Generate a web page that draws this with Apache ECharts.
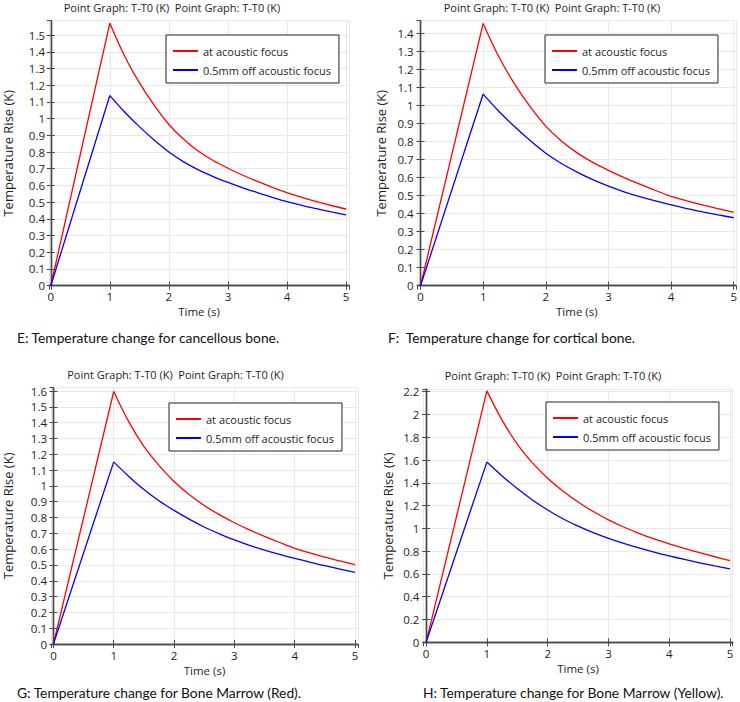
<!DOCTYPE html>
<html><head><meta charset="utf-8">
<script src="https://cdn.jsdelivr.net/npm/echarts@6/dist/echarts.min.js"></script>
<style>html,body{margin:0;padding:0;background:#fff}#chart{width:740px;height:702px}</style>
</head><body><div id="chart"></div>
<script>
// ---- data ----
const timeS = [0, 1, 1.25, 1.5, 1.75, 2, 2.25, 2.5, 2.75, 3, 3.25, 3.5, 3.75, 4, 4.25, 4.5, 4.75, 5];
const seriesNames = ['at acoustic focus', '0.5mm off acoustic focus'];
const panelTitle = 'Point Graph: T-T0 (K)  Point Graph: T-T0 (K)';
const xAxisName = 'Time (s)';
const yAxisName = 'Temperature Rise (K)';
const captions = [
  'E: Temperature change for cancellous bone.',
  'F:  Temperature change for cortical bone.',
  'G: Temperature change for Bone Marrow (Red).',
  'H: Temperature change for Bone Marrow (Yellow).'
];
const cancellousFocus   = [0, 1.571, 1.375, 1.215, 1.08, 0.965, 0.876, 0.805, 0.749, 0.703, 0.661, 0.624, 0.589, 0.557, 0.529, 0.503, 0.48, 0.459];
const cancellousOff     = [0, 1.138, 1.04, 0.952, 0.872, 0.80, 0.741, 0.693, 0.653, 0.618, 0.586, 0.557, 0.529, 0.503, 0.481, 0.461, 0.442, 0.424];
const corticalFocus     = [0, 1.455, 1.27, 1.12, 0.993, 0.885, 0.803, 0.737, 0.684, 0.640, 0.600, 0.563, 0.528, 0.496, 0.471, 0.448, 0.427, 0.407];
const corticalOff       = [0, 1.063, 0.968, 0.883, 0.805, 0.735, 0.678, 0.630, 0.588, 0.552, 0.521, 0.494, 0.47, 0.448, 0.428, 0.41, 0.393, 0.377];
const redMarrowFocus    = [0, 1.597, 1.405, 1.25, 1.13, 1.028, 0.945, 0.876, 0.818, 0.767, 0.722, 0.681, 0.642, 0.605, 0.576, 0.549, 0.525, 0.502];
const redMarrowOff      = [0, 1.152, 1.06, 0.977, 0.906, 0.845, 0.79, 0.74, 0.697, 0.658, 0.624, 0.594, 0.567, 0.542, 0.518, 0.495, 0.474, 0.453];
const yellowMarrowFocus = [0, 2.207, 1.95, 1.74, 1.575, 1.44, 1.328, 1.231, 1.148, 1.075, 1.012, 0.957, 0.908, 0.865, 0.825, 0.787, 0.751, 0.717];
const yellowMarrowOff   = [0, 1.582, 1.46, 1.35, 1.25, 1.162, 1.085, 1.02, 0.963, 0.913, 0.869, 0.829, 0.792, 0.758, 0.727, 0.698, 0.67, 0.644];
const yTickStep = [0.1, 0.1, 0.1, 0.2];

// ---- layout ----
const panelData = [
  [cancellousFocus, cancellousOff],
  [corticalFocus, corticalOff],
  [redMarrowFocus, redMarrowOff],
  [yellowMarrowFocus, yellowMarrowOff]
];
const layout = [
  {left: 45, top: 20.7, width: 304, height: 265, xMin: -0.03, xMax: 5.05, yMax: 1.586, yGap: 35, title: [172, 7], cap: [17, 337], legend: [166, 35]},
  {left: 417.7, top: 20.7, width: 321.3, height: 265, xMin: -0.045, xMax: 5.035, yMax: 1.47, yGap: 30.5, title: [552, 7], cap: [388, 337], legend: [545, 35]},
  {left: 45.5, top: 387.7, width: 312.5, height: 256.3, xMin: -0.04, xMax: 5.05, yMax: 1.621, yGap: 37, title: [175.5, 374.3], cap: [17, 692], legend: [169, 403]},
  {left: 423.3, top: 389.3, width: 309.4, height: 253, xMin: -0.046, xMax: 5.044, yMax: 2.221, yGap: 29, title: [553, 375], cap: [423, 692], legend: [546, 402]}
];
const FONT = 'Open Sans';
const TXT = '#1e1e1e';
const FRAME = '#4a4a4a';
const colors = ['#ff0000', '#0000ff'];

const grid = [], xAxis = [], yAxis = [], series = [], legend = [], graphic = [];
layout.forEach((p, i) => {
  grid.push({left: p.left, top: p.top, width: p.width, height: p.height, containLabel: false});
  const line = {show: true, lineStyle: {color: FRAME, width: 1.4}};
  const tick = {show: true, inside: true, length: 4, lineStyle: {color: FRAME, width: 1}};
  xAxis.push({
    type: 'value', gridIndex: i, position: 'bottom', min: p.xMin, max: p.xMax, splitNumber: 5,
    name: xAxisName, nameLocation: 'middle', nameGap: 20,
    nameTextStyle: {fontFamily: FONT, fontSize: 11.5, color: TXT},
    axisLine: line, axisTick: tick,
    axisLabel: {fontFamily: FONT, fontSize: 11.5, color: TXT, margin: 5, showMinLabel: false, showMaxLabel: false},
    splitLine: {show: true, lineStyle: {color: '#e9e9e9', width: 1}}
  });
  xAxis.push({
    type: 'value', gridIndex: i, position: 'top', min: p.xMin, max: p.xMax, splitNumber: 5,
    axisLine: line, axisTick: tick, axisLabel: {show: false}, splitLine: {show: false}
  });
  yAxis.push({
    type: 'value', gridIndex: i, position: 'left', min: 0, max: p.yMax, interval: yTickStep[i],
    name: yAxisName, nameLocation: 'middle', nameGap: p.yGap,
    nameTextStyle: {fontFamily: FONT, fontSize: 13, color: TXT},
    axisLine: line, axisTick: tick,
    axisLabel: {fontFamily: FONT, fontSize: 11.5, color: TXT, margin: 4, showMaxLabel: false},
    splitLine: {show: true, lineStyle: {color: '#e9e9e9', width: 1}}
  });
  yAxis.push({
    type: 'value', gridIndex: i, position: 'right', min: 0, max: p.yMax, interval: yTickStep[i],
    axisLine: line, axisTick: tick, axisLabel: {show: false}, splitLine: {show: false}
  });
  panelData[i].forEach((vals, k) => {
    const pts = timeS.map((t, j) => [t, vals[j]]);
    const base = {
      type: 'line', name: seriesNames[k], xAxisIndex: 2 * i, yAxisIndex: 2 * i,
      symbol: 'none', color: colors[k], lineStyle: {color: colors[k], width: 1.3}, z: 3
    };
    series.push(Object.assign({}, base, {data: pts.slice(0, 2), smooth: false}));
    series.push(Object.assign({}, base, {data: pts.slice(1), smooth: 0.35}));
  });
  legend.push({
    data: seriesNames, orient: 'vertical', left: p.legend[0], top: p.legend[1],
    icon: 'rect', itemWidth: 25, itemHeight: 2, itemGap: 5, padding: [9, 8, 6, 7],
    backgroundColor: '#fff', borderColor: '#222', borderWidth: 1, borderRadius: 0,
    selectedMode: false,
    textStyle: {fontFamily: FONT, fontSize: 11, color: TXT, lineHeight: 14}
  });
  graphic.push({type: 'text', x: p.title[0], y: p.title[1],
    style: {text: panelTitle, font: '11px "Open Sans"', fill: TXT, align: 'center', verticalAlign: 'middle'}});
  graphic.push({type: 'text', x: p.cap[0], y: p.cap[1],
    style: {text: captions[i], font: '13.8px Lato', fill: '#111', align: 'left', verticalAlign: 'middle'}});
});

const chart = echarts.init(document.getElementById('chart'), null, {renderer: 'svg'});
chart.setOption({
  animation: false,
  backgroundColor: '#fff',
  grid, xAxis, yAxis, series, legend, graphic
});
</script>
</body></html>
